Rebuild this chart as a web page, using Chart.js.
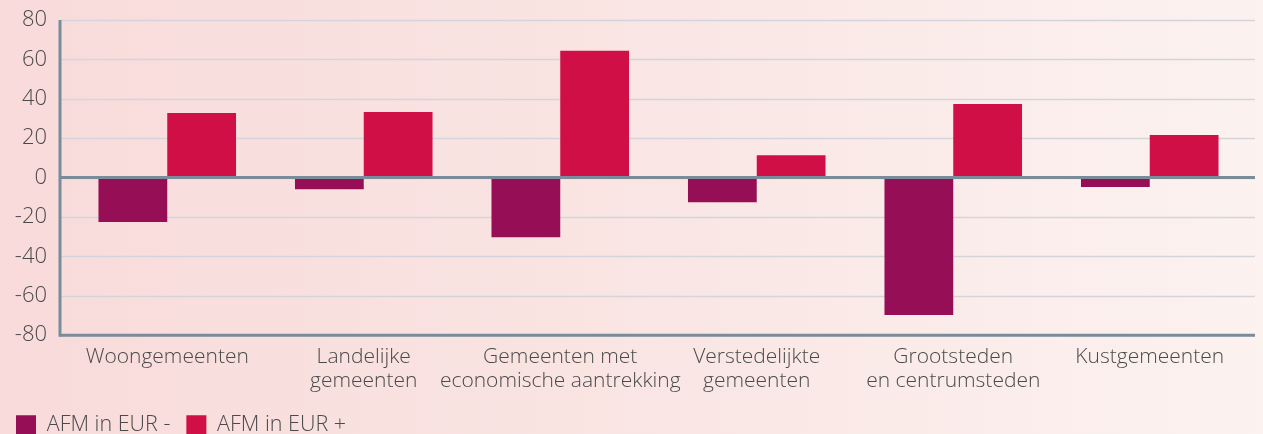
<!DOCTYPE html>
<html>
<head>
<meta charset="utf-8">
<script src="https://cdn.jsdelivr.net/npm/chart.js@4"></script>
<style>
  html, body { margin: 0; padding: 0; overflow: hidden; }
  body { width: 1263px; height: 434px; background: linear-gradient(90deg, #f8dbda 0%, #f9e4e2 45%, #fcf2f0 100%); }
  #wrap { position: relative; top: -13px; width: 1263px; height: 464px; }
</style>
</head>
<body>
<div id="wrap"><canvas id="chart"></canvas></div>
<script>
'use strict';

// categories (multi-line labels as in the source)
const categories = [
  ['Woongemeenten'],
  ['Landelijke', 'gemeenten'],
  ['Gemeenten met', 'economische aantrekking'],
  ['Verstedelijkte', 'gemeenten'],
  ['Grootsteden', 'en centrumsteden'],
  ['Kustgemeenten']
];
const seriesNames = ['AFM in EUR -', 'AFM in EUR +'];
const negValues = [-22.5, -5.9, -30.3, -12.5, -69.8, -4.8];
const posValues = [32.8, 33.3, 64.4, 11.4, 37.4, 21.6];
const yTicks = [-80, -60, -40, -20, 0, 20, 40, 60, 80];

const NEG_COLOR = '#960f56';
const POS_COLOR = '#d00f47';
const AXIS_COLOR = '#7a8c99';
const GRID_COLOR = '#d4d5dc';
const TEXT_COLOR = '#4a4a4a';
const FONT = '"Open Sans", "DejaVu Sans", sans-serif';

// grid lines and axis lines reach a bit past the category band, like the source
const frame = {
  id: 'frame',
  afterLayout(chart) {
    // pull the legend a little closer to the axis labels
    if (chart.legend) { chart.legend.top -= 5; chart.legend.bottom -= 5; }
  },
  beforeDatasetsDraw(chart) {
    const { ctx, scales: { y } } = chart;
    ctx.save();
    ctx.strokeStyle = GRID_COLOR;
    ctx.lineWidth = 1.5;
    yTicks.forEach(v => {
      const py = Math.round(y.getPixelForValue(v)) + 0.5;
      ctx.beginPath(); ctx.moveTo(60, py); ctx.lineTo(1255, py); ctx.stroke();
    });
    ctx.restore();
  },
  afterDatasetsDraw(chart) {
    const { ctx, scales: { y } } = chart;
    const top = y.getPixelForValue(80), zero = y.getPixelForValue(0), bottom = y.getPixelForValue(-80);
    ctx.save();
    ctx.strokeStyle = AXIS_COLOR;
    ctx.lineWidth = 3;
    ctx.beginPath(); ctx.moveTo(60, zero); ctx.lineTo(1255, zero); ctx.stroke();
    ctx.beginPath(); ctx.moveTo(60, bottom); ctx.lineTo(1255, bottom); ctx.stroke();
    ctx.beginPath(); ctx.moveTo(60, top); ctx.lineTo(60, bottom + 1.5); ctx.stroke();
    ctx.restore();
  }
};

new Chart(document.getElementById('chart'), {
  type: 'bar',
  data: {
    labels: categories,
    datasets: [
      { label: seriesNames[0], data: negValues, backgroundColor: NEG_COLOR, borderColor: NEG_COLOR, borderWidth: 0 },
      { label: seriesNames[1], data: posValues, backgroundColor: POS_COLOR, borderColor: POS_COLOR, borderWidth: 0 }
    ]
  },
  options: {
    responsive: true,
    maintainAspectRatio: false,
    animation: false,
    layout: { padding: { top: 0, right: 15, left: 0, bottom: 0 } },
    datasets: { bar: { categoryPercentage: 0.7, barPercentage: 1.0 } },
    plugins: {
      legend: {
        position: 'bottom',
        align: 'start',
        labels: {
          color: TEXT_COLOR,
          font: { family: FONT, size: 21.5, weight: '300' },
          boxWidth: 20, boxHeight: 20, padding: 16
        }
      },
      tooltip: { enabled: false }
    },
    scales: {
      x: {
        grid: { display: false, drawTicks: false },
        border: { display: false },
        ticks: {
          color: TEXT_COLOR,
          font: { family: FONT, size: 21, weight: '300', lineHeight: 1.15 },
          maxRotation: 0, autoSkip: false, padding: 10
        }
      },
      y: {
        min: -80, max: 80,
        afterFit(scale) { scale.width = 69; },
        afterBuildTicks(scale) { scale.ticks = yTicks.map(v => ({ value: v })); },
        grid: { display: false, drawTicks: false },
        border: { display: false },
        ticks: {
          color: TEXT_COLOR,
          font: { family: FONT, size: 22, weight: '300', lineHeight: 1 },
          padding: 22
        }
      }
    }
  },
  plugins: [frame]
});
</script>
</body>
</html>
